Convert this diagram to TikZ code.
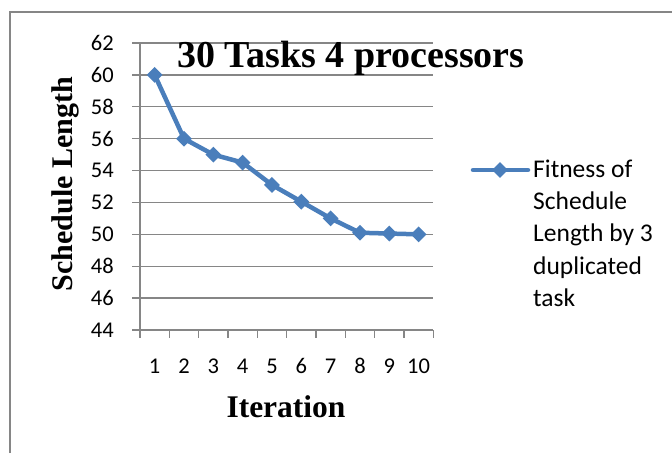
\documentclass[tikz,border=0pt]{standalone}
\usepackage{fontspec}
\setmainfont{Liberation Serif}
\newfontfamily\calfont{Carlito}
\usetikzlibrary{shapes.geometric}
\definecolor{serblue}{RGB}{74,126,187}
\definecolor{gridgray}{RGB}{134,134,134}
\begin{document}
\begin{tikzpicture}[x=1pt,y=-1pt,
  gridline/.style={draw=gridgray,line width=1.3pt},
  framestyle/.style={draw=gridgray,line width=2pt},
  ticklab/.style={font=\calfont\fontsize{22.5}{26}\selectfont,inner sep=0pt},
  series/.style={draw=serblue,line width=4.5pt,line join=round,line cap=round},
  marker/.style={diamond,fill=serblue,draw=none,inner sep=0pt,minimum width=16pt,minimum height=16pt,aspect=1},
  titlestyle/.style={font=\bfseries\fontsize{38}{42}\selectfont,inner sep=0pt},
  axtitle/.style={font=\bfseries\fontsize{31.5}{34}\selectfont,inner sep=0pt},
  ytitle/.style={font=\bfseries\fontsize{30}{32}\selectfont,inner sep=0pt},
  legtext/.style={font=\calfont\fontsize{25.5}{30}\selectfont,inner sep=0pt,anchor=base west}
]
\useasboundingbox (0,0) rectangle (672,453);
% frame (only top and left visible)
\draw[framestyle] (9.5,453) -- (9.5,12) -- (672,12);
% gridlines and y labels
\foreach \v in {44,46,...,62}{
  \pgfmathsetmacro{\yy}{330-(\v-44)*15.944}
  \draw[gridline] (132,\yy) -- (433,\yy);
  \node[ticklab,anchor=east] (yl\v) at (114,\yy) {\v};
}
% y axis
\draw[gridline] (140,43) -- (140,338);
% x ticks and labels
\foreach \i in {0,...,10}{
  \pgfmathsetmacro{\xx}{140+29.33*\i}
  \draw[gridline] (\xx,330) -- (\xx,338);
}
\foreach \i in {1,...,10}{
  \pgfmathsetmacro{\xx}{140+29.33*(\i-0.5)}
  \node[ticklab,anchor=base] (xl\i) at (\xx,373) {\i};
}
% data
\foreach \i/\v in {1/60,2/56,3/55,4/54.5,5/53.1,6/52.05,7/51,8/50.1,9/50.05,10/50}{
  \pgfmathsetmacro{\xx}{140+29.33*(\i-0.5)}
  \pgfmathsetmacro{\yy}{330-(\v-44)*15.944}
  \coordinate (c\i) at (\xx,\yy);
}
\draw[series] (c1) -- (c2) -- (c3) -- (c4) -- (c5) -- (c6) -- (c7) -- (c8) -- (c9) -- (c10);
\foreach \i in {1,...,10}{
  \node[marker] (m\i) at (c\i) {};
}
% titles
\node[titlestyle,anchor=base west] (title) at (177,67) {30 Tasks 4 processors};
\node[axtitle,anchor=base] (xtitle) at (286,417) {Iteration};
\node[ytitle,anchor=base,rotate=90] (ytitle) at (72,184) {Schedule Length};
% legend
\coordinate (la) at (473,170);
\coordinate (lb) at (528,170);
\draw[series] (la) -- (lb);
\node[marker] (lm) at (500,170) {};
\node[legtext] (leg1) at (533,177.3) {Fitness of};
\node[legtext] (leg2) at (533,209.6) {Schedule};
\node[legtext] (leg3) at (533,241.9) {Length by 3};
\node[legtext] (leg4) at (533,274.2) {duplicated};
\node[legtext] (leg5) at (533,306.5) {task};
\end{tikzpicture}
\end{document}
